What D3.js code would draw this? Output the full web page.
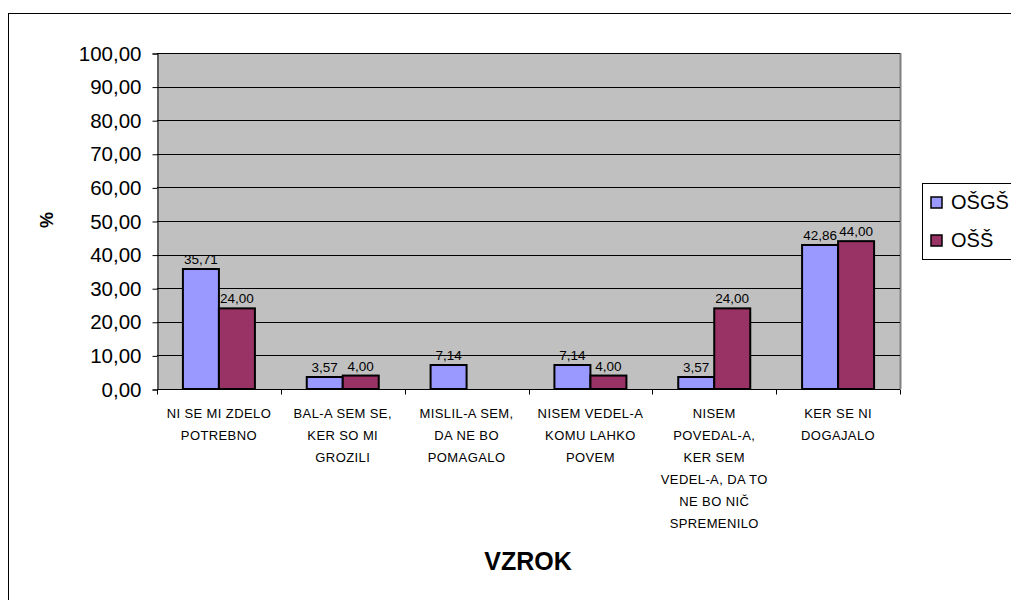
<!DOCTYPE html>
<html>
<head>
<meta charset="utf-8">
<script src="https://cdn.jsdelivr.net/npm/d3@7"></script>
<style>
  body { margin: 0; background: #fff; }
  text { font-family: Arial, "Liberation Sans", sans-serif; }
</style>
</head>
<body>
<figure id="bar" style="margin:0"></figure>
<script>
// categories (each split into the lines shown under the axis)
const categories = [
  ["NI SE MI ZDELO", "POTREBNO"],
  ["BAL-A SEM SE,", "KER SO MI", "GROZILI"],
  ["MISLIL-A SEM,", "DA NE BO", "POMAGALO"],
  ["NISEM VEDEL-A", "KOMU LAHKO", "POVEM"],
  ["NISEM", "POVEDAL-A,", "KER SEM", "VEDEL-A, DA TO", "NE BO NIČ", "SPREMENILO"],
  ["KER SE NI", "DOGAJALO"]
];
const seriesNames = ["OŠGŠ", "OŠŠ"];
const osgsValues = [35.71, 3.57, 7.14, 7.14, 3.57, 42.86];
const ossValues = [24.00, 4.00, null, 4.00, 24.00, 44.00];
const yTicks = [0, 10, 20, 30, 40, 50, 60, 70, 80, 90, 100];

const colors = ["#9999ff", "#993366"];
const width = 1011, height = 600;
const plot = { left: 157, top: 53, right: 900, bottom: 389 };

const fmt = v => d3.format(".2f")(v).replace(".", ",");

const svg = d3.select("figure#bar")
  .append("svg")
  .attr("width", width)
  .attr("height", height);

// chart frame (runs off the right and bottom edges)
svg.append("rect")
  .attr("x", 8.5).attr("y", 13.5)
  .attr("width", 1100).attr("height", 700)
  .attr("fill", "#fff").attr("stroke", "#000").attr("stroke-width", 1);

const x = d3.scaleBand()
  .domain(d3.range(categories.length))
  .range([plot.left, plot.right])
  .padding(0);

const x1 = d3.scaleBand()
  .domain(seriesNames)
  .range([0, x.bandwidth()])
  .paddingInner(0)
  .paddingOuter(0.72);

const y = d3.scaleLinear()
  .domain([0, 100])
  .range([plot.bottom, plot.top]);

// plot area
svg.append("rect")
  .attr("x", plot.left).attr("y", plot.top)
  .attr("width", plot.right - plot.left).attr("height", plot.bottom - plot.top)
  .attr("fill", "#c0c0c0");
svg.append("line")
  .attr("x1", plot.right + 0.5).attr("x2", plot.right + 0.5)
  .attr("y1", plot.top).attr("y2", plot.bottom)
  .attr("stroke", "#808080").attr("stroke-width", 2);

// gridlines
svg.append("g")
  .selectAll("line")
  .data(yTicks.filter(d => d > 0))
  .enter()
  .append("line")
  .attr("x1", plot.left).attr("x2", plot.right)
  .attr("y1", d => Math.round(y(d)) + 0.5)
  .attr("y2", d => Math.round(y(d)) + 0.5)
  .attr("stroke", "#000").attr("stroke-width", 1);

// y axis
const yAxis = svg.append("g")
  .attr("transform", "translate(" + (plot.left + 0.5) + ",0.5)")
  .call(d3.axisLeft(y).tickValues(yTicks).tickFormat(fmt).tickSize(5).tickPadding(11));
yAxis.select(".domain").attr("stroke", "#000");
yAxis.selectAll("text").attr("font-size", 20.5).attr("fill", "#000")
  .style("font-family", "Arial, 'Liberation Sans', sans-serif");

// bars
const groups = svg.append("g")
  .selectAll("g")
  .data(categories.map((c, i) => i))
  .enter()
  .append("g")
  .attr("transform", i => "translate(" + x(i) + ",0)");

const barData = i => [
  { s: seriesNames[0], v: osgsValues[i], c: colors[0] },
  { s: seriesNames[1], v: ossValues[i], c: colors[1] }
].filter(d => d.v !== null);

groups.selectAll("rect")
  .data(barData)
  .enter()
  .append("rect")
  .attr("x", d => x1(d.s))
  .attr("y", d => y(d.v))
  .attr("width", x1.bandwidth())
  .attr("height", d => y(0) - y(d.v))
  .attr("fill", d => d.c)
  .attr("stroke", "#000")
  .attr("stroke-width", 2);

groups.selectAll("text.val")
  .data(barData)
  .enter()
  .append("text")
  .attr("class", "val")
  .attr("x", d => x1(d.s) + x1.bandwidth() / 2)
  .attr("y", d => y(d.v) - 5)
  .attr("text-anchor", "middle")
  .attr("font-size", 13.5)
  .attr("fill", "#000")
  .text(d => fmt(d.v));

// x axis
const xAxis = svg.append("g")
  .attr("transform", "translate(0," + (plot.bottom + 0.5) + ")");
xAxis.append("line")
  .attr("x1", plot.left).attr("x2", plot.right)
  .attr("stroke", "#000");
xAxis.selectAll("line.tick")
  .data(d3.range(categories.length + 1))
  .enter()
  .append("line")
  .attr("class", "tick")
  .attr("x1", i => Math.round(plot.left + i * x.step()) + 0.5)
  .attr("x2", i => Math.round(plot.left + i * x.step()) + 0.5)
  .attr("y1", 0).attr("y2", 5)
  .attr("stroke", "#000");

xAxis.selectAll("text")
  .data(categories)
  .enter()
  .append("text")
  .attr("text-anchor", "middle")
  .attr("font-size", 13)
  .attr("letter-spacing", 0.4)
  .attr("fill", "#000")
  .attr("transform", (d, i) => "translate(" + (x(i) + x.bandwidth() / 2) + ",28)")
  .selectAll("tspan")
  .data(d => d)
  .enter()
  .append("tspan")
  .attr("x", 0)
  .attr("y", (d, j) => j * 22)
  .text(d => d);

// axis titles
svg.append("text")
  .attr("transform", "translate(53,220) rotate(-90)")
  .attr("text-anchor", "middle")
  .attr("font-size", 18).attr("font-weight", "bold")
  .text("%");

svg.append("text")
  .attr("x", 528).attr("y", 570)
  .attr("text-anchor", "middle")
  .attr("font-size", 25).attr("font-weight", "bold")
  .text("VZROK");

// legend
const legend = svg.append("g");
legend.append("rect")
  .attr("x", 922.5).attr("y", 183.5)
  .attr("width", 120).attr("height", 76)
  .attr("fill", "#fff").attr("stroke", "#000");
const li = legend.selectAll("g")
  .data(seriesNames)
  .enter()
  .append("g")
  .attr("transform", (d, i) => "translate(931," + (197 + i * 38) + ")");
li.append("rect")
  .attr("width", 11).attr("height", 11)
  .attr("fill", (d, i) => colors[i])
  .attr("stroke", "#000").attr("stroke-width", 1.5);
li.append("text")
  .attr("x", 20).attr("y", 12)
  .attr("font-size", 20)
  .text(d => d);
</script>
</body>
</html>
